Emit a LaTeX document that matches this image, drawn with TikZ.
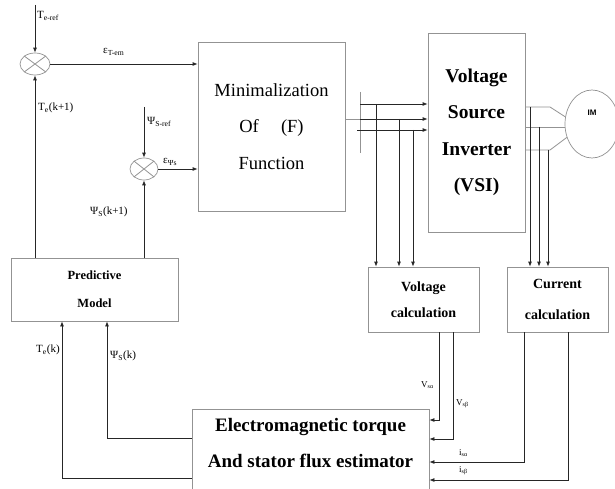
\documentclass[tikz,border=0pt]{standalone}
\usepackage{fontspec}
\setmainfont{Liberation Serif}
\newfontfamily\imfont{Liberation Sans}
\usetikzlibrary{arrows.meta,positioning,shapes.geometric}

\begin{document}
\begin{tikzpicture}[
  x=1pt, y=-1pt,
  block/.style={draw=gray!85, line width=0.8pt, rectangle, align=center, inner sep=0pt},
  sum/.style={draw=gray!85, line width=0.7pt, ellipse, inner sep=0pt},
  lbl/.style={anchor=west, inner sep=0pt, font=\fontsize{11}{13}\selectfont},
  sublbl/.style={anchor=west, inner sep=0pt, font=\fontsize{9}{11}\selectfont},
  wire/.style={line width=0.8pt, draw=black!85},
  gwire/.style={line width=0.8pt, draw=gray!85},
  arrow/.style={wire, -{Latex[length=5pt,width=4pt]}},
]
  \path[use as bounding box, fill=white] (0,0) rectangle (615,489);

  % blocks
  \node[sum, minimum width=30pt, minimum height=22pt] (s1) at (35,64) {};
  \node[sum, minimum width=28pt, minimum height=22pt] (s2) at (144,169) {};
  \node[block, minimum width=147pt, minimum height=169pt, font=\fontsize{18.5}{36.5}\selectfont] (minim) at (271.5,126.5) {Minimalization\\Of\hspace{1.2em}(F)\\Function};
  \node[block, minimum width=97pt, minimum height=199pt, font=\fontsize{19.5}{36.5}\selectfont\bfseries] (vsi) at (476.5,132.5) {Voltage\\Source\\Inverter\\(VSI)};
  \node[sum, minimum width=54pt, minimum height=68pt, label={[yshift=11pt, font=\imfont\bfseries\fontsize{8}{10}\selectfont]center:IM}] (im) at (592,124) {};
  \node[block, minimum width=167pt, minimum height=63pt, font=\fontsize{12.5}{28}\selectfont\bfseries] (pred) at (94.5,289.5) {Predictive\\Model};
  \node[block, minimum width=111pt, minimum height=65pt, font=\fontsize{14}{26}\selectfont\bfseries] (volt) at (423.5,299.5) {Voltage\\calculation};
  \node[block, minimum width=101pt, minimum height=65pt, font=\fontsize{14}{31}\selectfont\bfseries] (cur) at (557.5,299.5) {Current\\calculation};
  \node[block, minimum width=237pt, minimum height=114pt, font=\fontsize{19}{36}\selectfont\bfseries] (est) at (310.5,466) {Electromagnetic torque\\And stator flux estimator\\\strut};

  \draw[gwire] (s1.north west) -- (s1.south east) (s1.north east) -- (s1.south west);
  \draw[gwire] (s2.north west) -- (s2.south east) (s2.north east) -- (s2.south west);

  % references and errors
  \coordinate (teref) at (35,5);
  \coordinate (psiref) at (144,107);
  \draw[arrow] (teref) -- (s1.north);
  \draw[arrow] (psiref) -- (s2.north);
  \draw[arrow] (s1.east) -- (s1.east -| minim.west);
  \draw[arrow] (s2.east) -- (s2.east -| minim.west);
  \draw[arrow] (pred.north -| s1) -- (s1.south);
  \draw[arrow] (pred.north -| s2) -- (s2.south);

  \node[lbl] (lteref) at (37,16) {T\textsubscript{e-ref}};
  \node[lbl] (leT) at (103,52) {ε\textsubscript{T-em}};
  \node[lbl] (ltek1) at (38,108) {T\textsubscript{e}(k+1)};
  \node[lbl] (lpsiref) at (147,122) {Ψ\textsubscript{S-ref}};
  \node[lbl] (lepsi) at (163,162) {ε\textsubscript{Ψs}};
  \node[lbl] (lpsik1) at (90,212) {Ψ\textsubscript{S}(k+1)};

  % bus to the inverter
  \coordinate (bt) at (360,92);
  \coordinate (bb) at (360,153);
  \coordinate (b1) at (360,104);
  \coordinate (b2) at (360,119);
  \coordinate (b3) at (357,130);
  \draw[gwire] (bt) -- (bb);
  \draw[gwire] (minim.east |- b2) -- (b2);
  \foreach \b in {b1,b2,b3}
    \draw[arrow] (\b) -- (\b -| vsi.west);
  \coordinate (d1) at (376,104);
  \coordinate (d2) at (399,119);
  \coordinate (d3) at (413,130);
  \foreach \d in {d1,d2,d3}
    \draw[arrow] (\d) -- (\d |- volt.north);

  % inverter to motor
  \coordinate (ka) at (550,107);
  \coordinate (kc) at (550,150);
  \draw[gwire] (vsi.east |- ka) -- (ka) -- (im.165);
  \draw[gwire] (vsi.east |- im.188) -- (im.188);
  \draw[gwire] (vsi.east |- kc) -- (kc) -- (im.208);
  \coordinate (m1) at (530,107);
  \coordinate (m2) at (539,127);
  \coordinate (m3) at (548,150);
  \foreach \m in {m1,m2,m3}
    \draw[arrow] (\m) -- (\m |- cur.north);

  % measurements to the estimator
  \coordinate (va) at (439,420);
  \coordinate (vb) at (453,439);
  \coordinate (ia) at (524,462);
  \coordinate (ib) at (568,480);
  \draw[arrow] (va |- volt.south) -- (va) -- (va -| est.east);
  \draw[arrow] (vb |- volt.south) -- (vb) -- (vb -| est.east);
  \draw[arrow] (ia |- cur.south) -- (ia) -- (ia -| est.east);
  \draw[arrow] (ib |- cur.south) -- (ib) -- (ib -| est.east);
  \node[sublbl] (lva) at (421,385) {V\textsubscript{sα}};
  \node[sublbl] (lvb) at (456,404) {V\textsubscript{sβ}};
  \node[sublbl] (lia) at (459,453) {i\textsubscript{sα}};
  \node[sublbl] (lib) at (459,471) {i\textsubscript{sβ}};

  % estimator back to the model
  \coordinate (tk) at (62,478);
  \coordinate (pk) at (107,438);
  \draw[arrow] (est.west |- tk) -- (tk) -- (tk |- pred.south);
  \draw[arrow] (est.west |- pk) -- (pk) -- (pk |- pred.south);
  \node[lbl] (ltk) at (36,350) {T\textsubscript{e}(k)};
  \node[lbl] (lpk) at (110,356) {Ψ\textsubscript{S}(k)};
\end{tikzpicture}
\end{document}
